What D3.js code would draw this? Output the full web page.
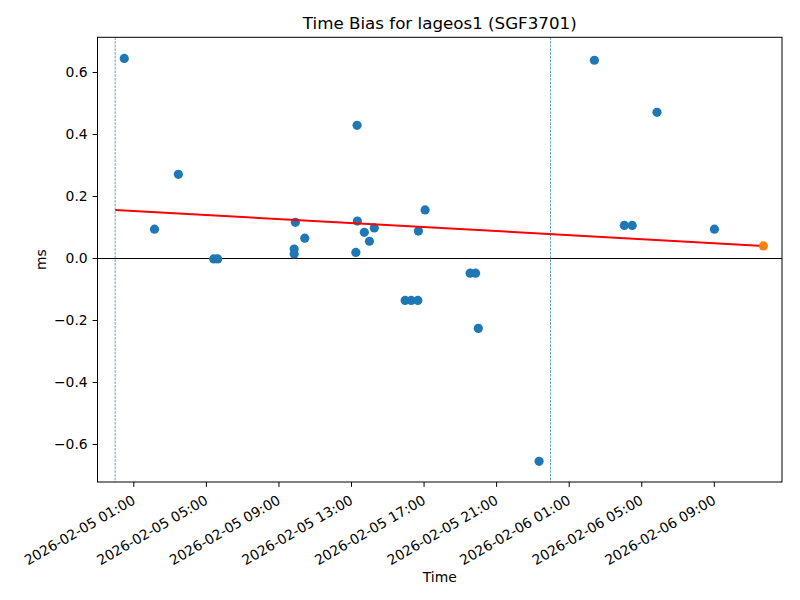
<!DOCTYPE html>
<html>
<head>
<meta charset="utf-8">
<script src="https://cdn.jsdelivr.net/npm/d3@7"></script>
<style>
html,body{margin:0;padding:0;background:#fff;}
svg{display:block;font-family:"DejaVu Sans",sans-serif;}
</style>
</head>
<body>
<svg id="chart" width="800" height="600"></svg>
<script>
// ---- data ----
const obsTimes = [
  "2026-02-05T00:30","2026-02-05T02:10","2026-02-05T03:29","2026-02-05T05:26","2026-02-05T05:39",
  "2026-02-05T09:52","2026-02-05T09:52","2026-02-05T09:56","2026-02-05T10:27","2026-02-05T13:16",
  "2026-02-05T13:20","2026-02-05T13:21","2026-02-05T13:44","2026-02-05T14:01","2026-02-05T14:17",
  "2026-02-05T15:59","2026-02-05T16:19","2026-02-05T16:41","2026-02-05T16:43","2026-02-05T17:05",
  "2026-02-05T19:34","2026-02-05T19:52","2026-02-05T20:01","2026-02-05T23:22","2026-02-06T02:25",
  "2026-02-06T04:04","2026-02-06T04:30","2026-02-06T05:52","2026-02-06T09:02"
];
const obsBias = [
  0.644, 0.093, 0.270, -0.003, -0.003,
  0.029, 0.013, 0.115, 0.064, 0.018,
  0.428, 0.119, 0.083, 0.054, 0.097,
  -0.137, -0.137, -0.137, 0.087, 0.155,
  -0.049, -0.049, -0.227, -0.656, 0.638,
  0.105, 0.105, 0.470, 0.093
];
const trendTimes = ["2026-02-05T00:00", "2026-02-06T11:44"];
const trendBias = [0.155, 0.039];
const predTime = ["2026-02-06T11:44"];
const predBias = [0.039];
const dayMarks = ["2026-02-05T00:00", "2026-02-06T00:00"];
const xTicks = [
  "2026-02-05T01:00","2026-02-05T05:00","2026-02-05T09:00","2026-02-05T13:00","2026-02-05T17:00",
  "2026-02-05T21:00","2026-02-06T01:00","2026-02-06T05:00","2026-02-06T09:00"
];
const yTicks = [-0.6, -0.4, -0.2, 0.0, 0.2, 0.4, 0.6];
const xDomain = ["2026-02-04T23:01:30", "2026-02-06T12:45:30"];
const yDomain = [-0.7226, 0.712];
const titleText = "Time Bias for lageos1 (SGF3701)";
const xLabel = "Time";
const yLabel = "ms";

// ---- drawing ----
const parse = s => new Date(s + (s.length === 16 ? ":00Z" : "Z"));
const svg = d3.select("#chart");
const L = 97.5, R = 782, T = 37.3, B = 482;

const x = d3.scaleUtc().domain(xDomain.map(parse)).range([L, R]);
const y = d3.scaleLinear().domain(yDomain).range([B, T]);

const plot = svg.append("g");

// zero line
plot.append("line")
  .attr("x1", L).attr("x2", R)
  .attr("y1", Math.round(y(0)) + 0.5).attr("y2", Math.round(y(0)) + 0.5)
  .attr("stroke", "#000").attr("stroke-width", 1);

// day marks
plot.selectAll("line.day").data(dayMarks).join("line")
  .attr("class", "day")
  .attr("x1", d => x(parse(d))).attr("x2", d => x(parse(d)))
  .attr("y1", T).attr("y2", B)
  .attr("stroke", "#1f77b4").attr("stroke-width", 0.7)
  .attr("stroke-dasharray", "2.6,1.1");

// scatter
plot.selectAll("circle.obs").data(obsTimes.map((t, i) => [parse(t), obsBias[i]])).join("circle")
  .attr("class", "obs")
  .attr("cx", d => x(d[0])).attr("cy", d => y(d[1]))
  .attr("r", 4.6).attr("fill", "#1f77b4");

// trend line
const line = d3.line().x(d => x(d[0])).y(d => y(d[1]));
plot.append("path")
  .datum(trendTimes.map((t, i) => [parse(t), trendBias[i]]))
  .attr("d", line).attr("fill", "none")
  .attr("stroke", "#ff0000").attr("stroke-width", 2);

// predicted point
plot.selectAll("circle.pred").data(predTime.map((t, i) => [parse(t), predBias[i]])).join("circle")
  .attr("class", "pred")
  .attr("cx", d => x(d[0])).attr("cy", d => y(d[1]))
  .attr("r", 4.6).attr("fill", "#ff7f0e");

// frame
svg.append("rect").attr("x", L).attr("y", T).attr("width", R - L).attr("height", B - T)
  .attr("fill", "none").attr("stroke", "#000").attr("stroke-width", 1);

// x axis
const fmt = d3.utcFormat("%Y-%m-%d %H:%M");
const xAxis = d3.axisBottom(x).tickValues(xTicks.map(parse)).tickFormat(fmt).tickSize(4.9).tickPadding(3.5);
const gx = svg.append("g").attr("transform", `translate(0,${B})`).call(xAxis);
gx.select(".domain").remove();
gx.selectAll(".tick line").attr("stroke", "#000").attr("stroke-width", 1);
gx.selectAll(".tick text")
  .attr("font-size", "13.9px").attr("fill", "#000")
  .attr("font-family", "DejaVu Sans")
  .attr("text-anchor", "end")
  .attr("dy", null).attr("y", 0)
  .attr("transform", "translate(2.5,21) rotate(-30)");

// y axis
const yAxis = d3.axisLeft(y).tickValues(yTicks).tickFormat(d => d.toFixed(1).replace("-", "\u2212")).tickSize(4.9).tickPadding(4.9);
const gy = svg.append("g").attr("transform", `translate(${L},0)`).call(yAxis);
gy.select(".domain").remove();
gy.selectAll(".tick line").attr("stroke", "#000").attr("stroke-width", 1);
gy.selectAll(".tick text").attr("font-size", "13.9px").attr("fill", "#000").attr("font-family", "DejaVu Sans");

// labels
svg.append("text").attr("x", (L + R) / 2).attr("y", 28.5)
  .attr("text-anchor", "middle").attr("font-size", "16.7px").attr("fill", "#000").text(titleText);
svg.append("text").attr("x", (L + R) / 2).attr("y", 582)
  .attr("text-anchor", "middle").attr("font-size", "13.9px").attr("fill", "#000").text(xLabel);
svg.append("text").attr("transform", `translate(46,${(T + B) / 2}) rotate(-90)`)
  .attr("text-anchor", "middle").attr("font-size", "13.9px").attr("fill", "#000").text(yLabel);
</script>
</body>
</html>
